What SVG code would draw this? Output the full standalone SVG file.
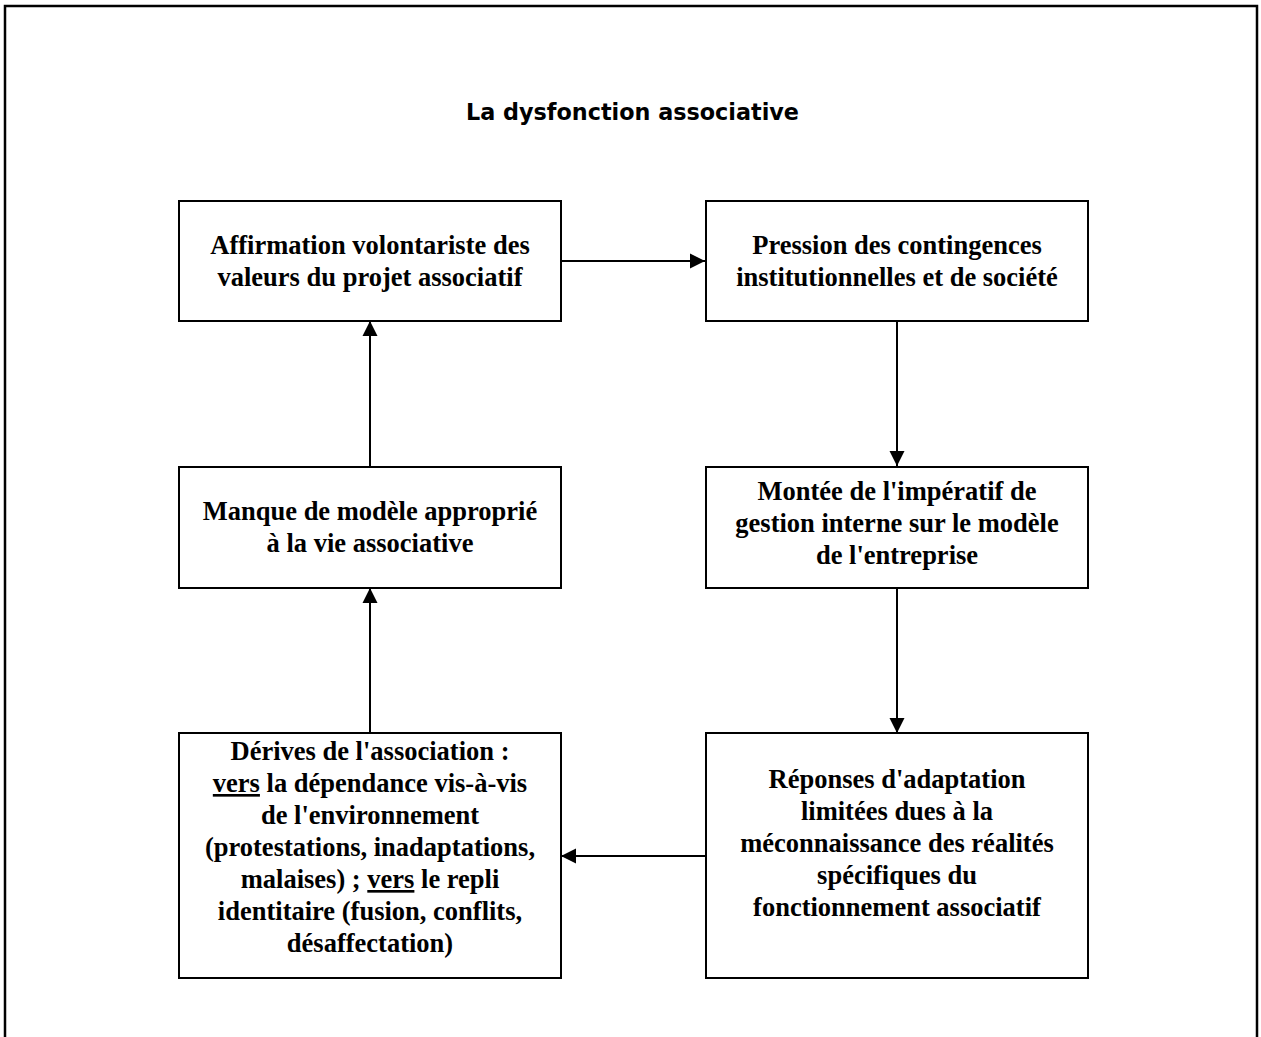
<svg xmlns="http://www.w3.org/2000/svg" width="1261" height="1037" viewBox="0 0 1261 1037">
  <style>
    .box { fill: #ffffff; stroke: #000000; stroke-width: 2; }
    .t { font-family: "Liberation Serif", "Times New Roman", serif; font-weight: bold; font-size: 26.5px; fill: #000000; text-anchor: middle; }
    .title { font-family: "Comic Sans MS", "DejaVu Sans", sans-serif; font-weight: bold; font-size: 23px; fill: #000000; text-anchor: middle; }
    .conn { stroke: #000000; stroke-width: 2; fill: none; marker-end: url(#arrow); }
    .u { text-decoration: underline; }
  </style>
  <defs>
    <marker id="arrow" markerWidth="16" markerHeight="16" refX="15" refY="8" orient="auto" markerUnits="userSpaceOnUse">
      <path d="M0,0.5 L15,8 L0,15.5 Z" fill="#000000"/>
    </marker>
  </defs>
  <rect x="0" y="0" width="1261" height="1037" fill="#ffffff"/>
  <path d="M5,1040 L5,6 L1257,6 L1257,1040" fill="none" stroke="#000000" stroke-width="2.5"/>
  <text id="title" class="title" x="632.5" y="120" textLength="333" lengthAdjust="spacingAndGlyphs">La dysfonction associative</text>

  <g id="connectors">
    <line class="conn" x1="561" y1="261" x2="705" y2="261"/>
    <line class="conn" x1="897" y1="321" x2="897" y2="466"/>
    <line class="conn" x1="897" y1="588" x2="897" y2="733"/>
    <line class="conn" x1="705" y1="856" x2="561" y2="856"/>
    <line class="conn" x1="370" y1="733" x2="370" y2="588"/>
    <line class="conn" x1="370" y1="466" x2="370" y2="321"/>
  </g>

  <g id="node-affirmation">
    <rect class="box" x="179" y="201" width="382" height="120"/>
    <text class="t" x="370" y="254">Affirmation volontariste des</text>
    <text class="t" x="370" y="286">valeurs du projet associatif</text>
  </g>
  <g id="node-pression">
    <rect class="box" x="706" y="201" width="382" height="120"/>
    <text class="t" x="897" y="254">Pression des contingences</text>
    <text class="t" x="897" y="286">institutionnelles et de société</text>
  </g>
  <g id="node-montee">
    <rect class="box" x="706" y="467" width="382" height="121"/>
    <text class="t" x="897" y="500">Montée de l'impératif de</text>
    <text class="t" x="897" y="532">gestion interne sur le modèle</text>
    <text class="t" x="897" y="564">de l'entreprise</text>
  </g>
  <g id="node-reponses">
    <rect class="box" x="706" y="733" width="382" height="245"/>
    <text class="t" x="897" y="788">Réponses d'adaptation</text>
    <text class="t" x="897" y="820">limitées dues à la</text>
    <text class="t" x="897" y="852">méconnaissance des réalités</text>
    <text class="t" x="897" y="884">spécifiques du</text>
    <text class="t" x="897" y="916">fonctionnement associatif</text>
  </g>
  <g id="node-derives">
    <rect class="box" x="179" y="733" width="382" height="245"/>
    <text class="t" x="370" y="760">Dérives de l'association :</text>
    <text class="t" x="370" y="792"><tspan class="u">vers</tspan> la dépendance vis-à-vis</text>
    <text class="t" x="370" y="824">de l'environnement</text>
    <text class="t" x="370" y="856">(protestations, inadaptations,</text>
    <text class="t" x="370" y="888">malaises) ; <tspan class="u">vers</tspan> le repli</text>
    <text class="t" x="370" y="920">identitaire (fusion, conflits,</text>
    <text class="t" x="370" y="952">désaffectation)</text>
  </g>
  <g id="node-manque">
    <rect class="box" x="179" y="467" width="382" height="121"/>
    <text class="t" x="370" y="520">Manque de modèle approprié</text>
    <text class="t" x="370" y="552">à la vie associative</text>
  </g>
</svg>
